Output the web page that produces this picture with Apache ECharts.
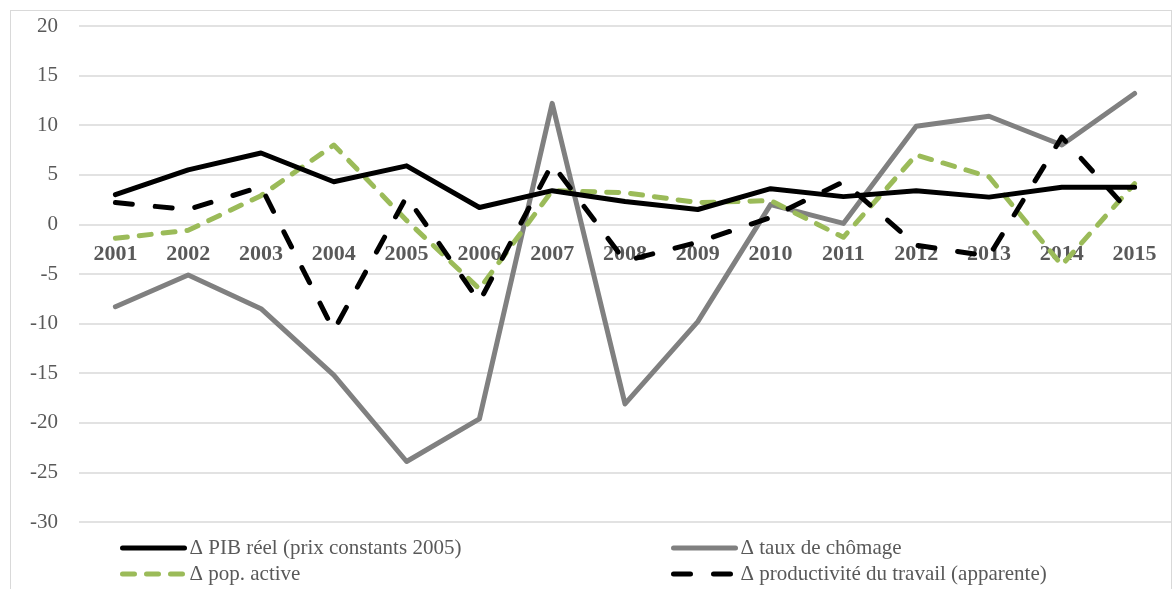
<!DOCTYPE html>
<html>
<head>
<meta charset="utf-8">
<script src="https://cdn.jsdelivr.net/npm/echarts@6/dist/echarts.min.js"></script>
<style>
  html, body { margin: 0; padding: 0; background: #fff; }
  #chart { width: 1174px; height: 589px; position: relative; }
  .frame { position: absolute; left: 10px; top: 10px; right: 2px; bottom: -2px; border: 1.5px solid #d9d9d9; pointer-events: none; }
</style>
</head>
<body>
<div id="chart"></div>
<script>
const years = ['2001', '2002', '2003', '2004', '2005', '2006', '2007', '2008',
  '2009', '2010', '2011', '2012', '2013', '2014', '2015'];

// Δ PIB réel (prix constants 2005)
const pibReel = [3.0, 5.5, 7.2, 4.3, 5.9, 1.7, 3.4, 2.3, 1.5, 3.6, 2.8, 3.4, 2.75, 3.75, 3.75];
// Δ taux de chômage
const tauxChomage = [-8.3, -5.1, -8.5, -15.2, -23.9, -19.6, 12.2, -18.1, -9.8, 2.0, 0.1, 9.9, 10.9, 8.0, 13.2];
// Δ pop. active
const popActive = [-1.4, -0.6, 2.9, 8.0, 0.4, -6.5, 3.4, 3.2, 2.2, 2.4, -1.3, 7.0, 4.8, -4.1, 4.1];
// Δ productivité du travail (apparente)
const productivite = [2.2, 1.5, 3.8, -10.7, 2.8, -7.8, 6.1, -3.7, -1.8, 0.7, 4.3, -2.1, -3.2, 8.8, 0.7];

const names = [
  'Δ PIB réel (prix constants 2005)',
  'Δ taux de chômage',
  'Δ pop. active',
  'Δ productivité du travail (apparente)'
];

const font = 'Liberation Serif';
const chart = echarts.init(document.getElementById('chart'));

function lineSeries(name, data, color, type) {
  return {
    name: name,
    type: 'line',
    data: data,
    symbol: 'none',
    lineStyle: { color: color, width: 5, type: type, cap: 'round', join: 'round' },
    itemStyle: { color: color }
  };
}

function legendColumn(data, left) {
  return {
    data: data,
    orient: 'vertical',
    left: left,
    top: 535,
    height: 54,
    padding: 0,
    itemWidth: 62,
    itemHeight: 14,
    itemGap: 0,
    itemStyle: { opacity: 0 },
    lineStyle: { width: 5, cap: 'round' },
    textStyle: { fontFamily: font, fontSize: 21, color: '#595959', lineHeight: 26 }
  };
}

chart.setOption({
  animation: false,
  textStyle: { fontFamily: font },
  grid: { left: 79, right: 3, top: 26, bottom: 67 },
  xAxis: {
    type: 'category',
    data: years,
    boundaryGap: true,
    // labels sit just under the zero line
    offset: -298,
    axisLine: { show: false },
    axisTick: { show: false },
    axisLabel: {
      fontFamily: font, fontSize: 22, fontWeight: 'bold', color: '#595959',
      margin: 19, interval: 0
    }
  },
  yAxis: {
    type: 'value',
    min: -30,
    max: 20,
    interval: 5,
    axisLine: { show: false },
    axisTick: { show: false },
    splitLine: { lineStyle: { color: '#d9d9d9', width: 1.5 } },
    axisLabel: { fontFamily: font, fontSize: 21, color: '#595959', margin: 21 }
  },
  legend: [
    legendColumn([names[0], names[2]], 120),
    legendColumn([names[1], names[3]], 671)
  ],
  series: [
    lineSeries(names[1], tauxChomage, '#808080', 'solid'),
    lineSeries(names[2], popActive, '#9bbb59', [12, 12]),
    lineSeries(names[3], productivite, '#000000', [17, 23]),
    lineSeries(names[0], pibReel, '#000000', 'solid')
  ]
});
</script>
<div class="frame"></div>
</body>
</html>
